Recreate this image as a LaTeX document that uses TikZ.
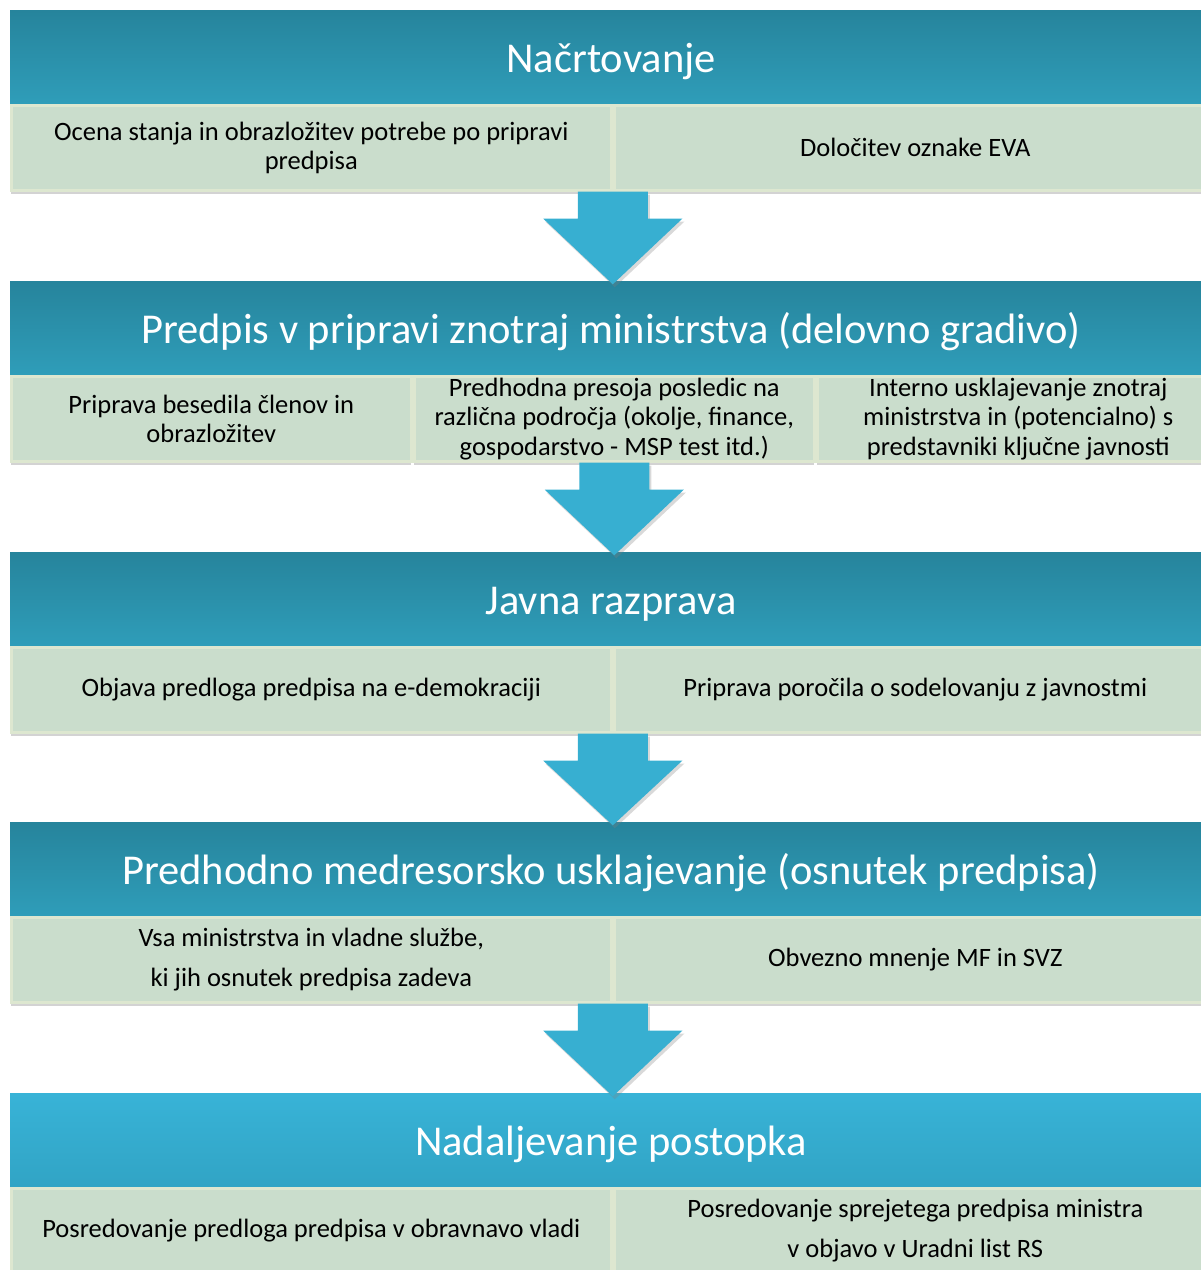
\documentclass[tikz,border=0pt]{standalone}
\usepackage{fontspec}
\setmainfont{Carlito}
\usetikzlibrary{positioning, calc, shadows}
\definecolor{azulosc}{HTML}{26849C}
\definecolor{azulmed}{HTML}{2F9DB9}
\definecolor{azulcla}{HTML}{38B3D7}
\definecolor{azulcla2}{HTML}{31A4C5}
\definecolor{verdecel}{HTML}{CADDCC}
\definecolor{bordecel}{HTML}{DDE7D0}
\definecolor{flechacol}{HTML}{37AFD1}
\tikzset{cabecera/.style={minimum width=1202pt, minimum height=93pt, text height=40pt, text depth=9pt, top color=azulosc, bottom color=azulmed, text=white, font=\fontsize{42.5}{46}\selectfont}}
\tikzset{cabeceraclara/.style={cabecera, top color=azulcla, bottom color=azulcla2}}
\tikzset{celda/.style={draw=bordecel, line width=3pt, fill=verdecel, minimum height=85pt, align=center, font=\fontsize{26.5}{29.5}\selectfont, drop shadow={shadow xshift=0pt, shadow yshift=-4pt, opacity=0.35}}}
\tikzset{celdaancha/.style={celda, font=\fontsize{26.5}{40.5}\selectfont}}
\tikzset{flecha/.style={fill=flechacol, draw=none, drop shadow={shadow xshift=2pt, shadow yshift=-3pt, opacity=0.3}}}

\begin{document}
\begin{tikzpicture}[
                x = 1pt, y = -1pt,
                every node/.style={inner sep=0pt}
            ]
                \useasboundingbox (0,0) rectangle (1201,1270);
                % Nacrtovanje
                \node[cabecera] (h1) at (611,57) {Načrtovanje};
                \node[celda, minimum width=600pt, anchor=north west] (c1a) at (h1.south west) {Ocena stanja in obrazložitev potrebe po pripravi\\predpisa};
                \node[celda, minimum width=602pt, right=0pt of c1a] (c1b) {Določitev oznake EVA};
                % Predpis v pripravi
                \node[cabecera] (h2) at (611,328) {Predpis v pripravi znotraj ministrstva (delovno gradivo)};
                \node[celda, minimum width=400pt, anchor=north west] (c2a) at (h2.south west) {Priprava besedila členov in\\obrazložitev};
                \node[celda, minimum width=400pt, right=0pt of c2a] (c2b) {Predhodna presoja posledic na\\različna področja (okolje, finance,\\gospodarstvo - MSP test itd.)};
                \node[celda, minimum width=402pt, right=0pt of c2b] (c2c) {Interno usklajevanje znotraj\\ministrstva in (potencialno) s\\predstavniki ključne javnosti};
                % Javna razprava
                \node[cabecera] (h3) at (611,599) {Javna razprava};
                \node[celda, minimum width=600pt, anchor=north west] (c3a) at (h3.south west) {Objava predloga predpisa na e-demokraciji};
                \node[celda, minimum width=602pt, right=0pt of c3a] (c3b) {Priprava poročila o sodelovanju z javnostmi};
                % Medresorsko usklajevanje
                \node[cabecera] (h4) at (611,869) {Predhodno medresorsko usklajevanje (osnutek predpisa)};
                \node[celdaancha, minimum width=600pt, anchor=north west] (c4a) at (h4.south west) {Vsa ministrstva in vladne službe,\\ki jih osnutek predpisa zadeva};
                \node[celda, minimum width=602pt, right=0pt of c4a] (c4b) {Obvezno mnenje MF in SVZ};
                % Nadaljevanje
                \node[cabeceraclara] (h5) at (611,1140) {Nadaljevanje postopka};
                \node[celda, minimum width=600pt, anchor=north west] (c5a) at (h5.south west) {Posredovanje predloga predpisa v obravnavo vladi};
                \node[celdaancha, minimum width=602pt, right=0pt of c5a] (c5b) {Posredovanje sprejetega predpisa ministra\\v objavo v Uradni list RS};

                \foreach \de/\a in {c1a.south east/h2, c2b.south/h3, c3a.south east/h4, c4a.south east/h5}
                    \draw[flecha] ($(\de)+(-35,0)$) -- ++(70,0) -- ++(0,27) -- ++(34.5,0)
                        -- ($(\a.north -| \de)+(0,3)$) -- ($(\de)+(-69.5,27)$) -- ++(34.5,0) -- cycle;
            \end{tikzpicture}
\end{document}
